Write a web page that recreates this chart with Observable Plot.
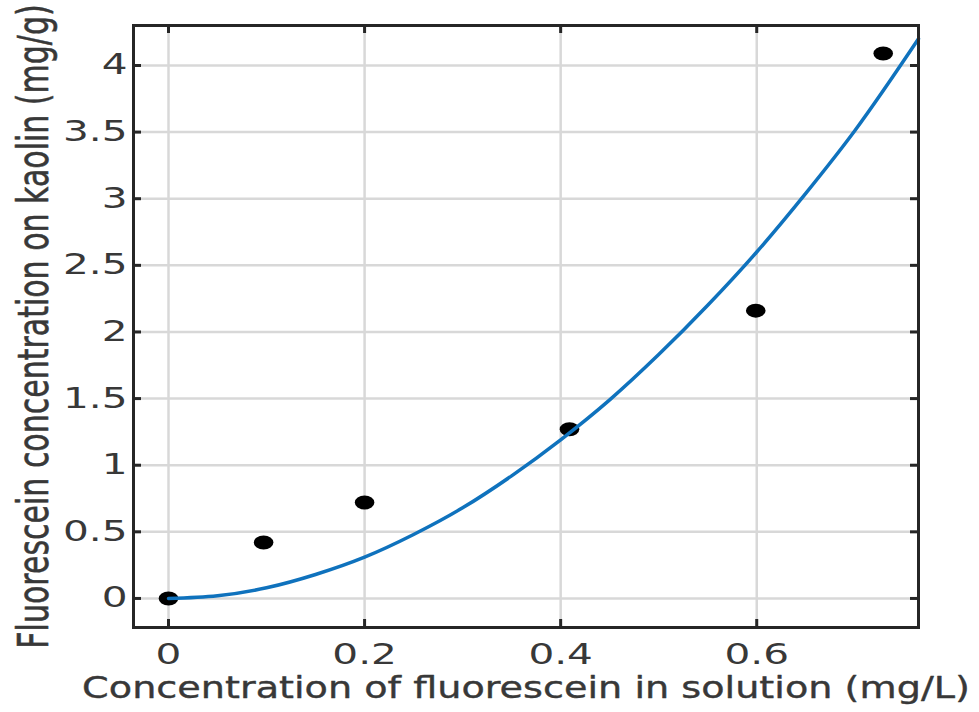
<!DOCTYPE html>
<html><head><meta charset="utf-8">
<script src="https://cdn.jsdelivr.net/npm/d3@7"></script>
<script src="https://cdn.jsdelivr.net/npm/@observablehq/plot@0.6"></script>
<style>
body{margin:0;background:#fff}
#chart circle{transform-box:fill-box;transform-origin:center;transform:scaleX(1.4)}
</style></head><body><div id="chart"></div>
<script>
// measured points
const measuredX = [0, 0.097, 0.2, 0.409, 0.599, 0.729];
const measuredY = [0, 0.42, 0.72, 1.27, 2.16, 4.09];
// fitted curve
const fitX = [0, 0.05, 0.1, 0.15, 0.2, 0.25, 0.3, 0.35, 0.4, 0.45, 0.5, 0.55, 0.6, 0.65, 0.7, 0.765];
const fitY = [0, 0.02, 0.08, 0.18, 0.31, 0.48, 0.68, 0.92, 1.19, 1.49, 1.83, 2.2, 2.6, 3.04, 3.51, 4.2];
const xTicks = [0, 0.2, 0.4, 0.6];
const xTickLabels = ["0", "0.2", "0.4", "0.6"];
const yTicks = [0, 0.5, 1, 1.5, 2, 2.5, 3, 3.5, 4];
const yTickLabels = ["0", "0.5", "1", "1.5", "2", "2.5", "3", "3.5", "4"];
const xLabel = "Concentration of fluorescein in solution (mg/L)";
const yLabel = "Fluorescein concentration on kaolin (mg/g)";

const points = measuredX.map((x, i) => ({x, y: measuredY[i]}));
const fit = fitX.map((x, i) => ({x, y: fitY[i]}));

const W = 979, H = 712, mt = 25, mr = 61, mb = 85, ml = 133;
const innerW = W - ml - mr, innerH = H - mt - mb;
const dark = "#262626", textCol = "#383838";

const plot = Plot.plot({
  width: W, height: H,
  marginTop: mt, marginRight: mr, marginBottom: mb, marginLeft: ml,
  style: {fontFamily: "DejaVu Sans", fontSize: "28px", background: "#fff"},
  x: {domain: [-0.0357, 0.765], label: null},
  y: {domain: [-0.218, 4.30], label: null},
  marks: [
    Plot.gridX(xTicks, {stroke: "#d8d8d8", strokeOpacity: 1, strokeWidth: 2.5}),
    Plot.gridY(yTicks, {stroke: "#d8d8d8", strokeOpacity: 1, strokeWidth: 2.5}),
    Plot.tickX(xTicks, {x: d => d, insetTop: innerH - 8, stroke: dark, strokeWidth: 3}),
    Plot.tickX(xTicks, {x: d => d, insetBottom: innerH - 8, stroke: dark, strokeWidth: 3}),
    Plot.tickY(yTicks, {y: d => d, insetRight: innerW - 8, stroke: dark, strokeWidth: 3}),
    Plot.tickY(yTicks, {y: d => d, insetLeft: innerW - 8, stroke: dark, strokeWidth: 3}),
    Plot.dot(points, {x: "x", y: "y", r: 7, fill: "#000", stroke: null}),
    Plot.line(fit, {x: "x", y: "y", stroke: "#0F72BD", strokeWidth: 3.5, curve: "monotone-x"}),
    Plot.frame({stroke: dark, strokeWidth: 3}),
    Plot.axisX(xTicks, {tickSize: 0, tickPadding: 17, fontSize: 28, fill: textCol, label: null,
      stroke: textCol, strokeWidth: 0.3,
      tickFormat: d => xTickLabels[xTicks.indexOf(d)]}),
    Plot.axisY(yTicks, {tickSize: 0, tickPadding: 6, fontSize: 28, fill: textCol, label: null,
      stroke: textCol, strokeWidth: 0.3,
      tickFormat: d => yTickLabels[yTicks.indexOf(d)]}),
    Plot.text([xLabel], {text: d => d, frameAnchor: "bottom", dy: 70, fontSize: 31, fill: textCol,
      stroke: textCol, strokeWidth: 0.4}),
    Plot.text([yLabel], {text: d => d, frameAnchor: "left", textAnchor: "middle", dx: -99, rotate: -90,
      fontSize: 30, fill: textCol, stroke: textCol, strokeWidth: 0.4, fontFamily: "DejaVu Sans"})
  ]
});
document.getElementById("chart").appendChild(plot);

// horizontal stretch of the lettering, as in the reference
plot.querySelectorAll("text").forEach(t => {
  let tr = t.getAttribute("transform") || "";
  const xa = t.getAttribute("x");
  if (xa && !isNaN(+xa) && +xa !== 0) { tr += ` translate(${+xa},0)`; t.removeAttribute("x"); }
  if (t.textContent === yLabel) {
    t.setAttribute("transform", tr + " scale(1,1.45)");
    return;
  }
  let s = 1.45;
  if (t.textContent === xLabel) s = 888 / t.getComputedTextLength();
  t.setAttribute("transform", tr + ` scale(${s},1)`);
});
</script></body></html>
